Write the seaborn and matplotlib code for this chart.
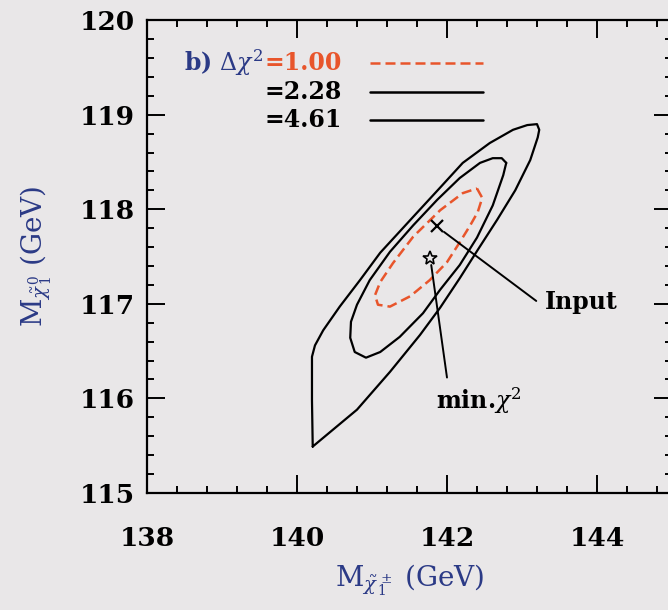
import numpy as np
import pandas as pd
import seaborn as sns
import matplotlib.pyplot as plt

# contour vertices (chargino mass, neutralino mass)
c461_x = [140.21, 140.20, 140.20, 140.24, 140.35, 140.57, 140.84, 141.11, 141.55, 141.91,
          142.21, 142.57, 142.88, 143.07, 143.20, 143.23, 143.21, 143.11, 142.91, 142.67,
          142.41, 142.17, 141.91, 141.64, 141.24, 140.80, 140.21]
c461_y = [115.49, 115.98, 116.44, 116.56, 116.72, 116.97, 117.25, 117.54, 117.92, 118.23,
          118.49, 118.70, 118.84, 118.89, 118.90, 118.84, 118.76, 118.52, 118.20, 117.89,
          117.57, 117.27, 116.96, 116.67, 116.28, 115.88, 115.49]

c228_x = [142.79, 142.75, 142.61, 142.40, 142.17, 141.91, 141.68, 141.37, 141.11, 140.92,
          140.77, 140.71, 140.72, 140.80, 140.97, 141.24, 141.55, 141.87, 142.17, 142.44,
          142.61, 142.73, 142.79]
c228_y = [118.49, 118.36, 118.04, 117.70, 117.41, 117.15, 116.90, 116.65, 116.49, 116.43,
          116.49, 116.64, 116.81, 116.99, 117.25, 117.55, 117.83, 118.10, 118.33, 118.49,
          118.54, 118.54, 118.49]

c100_x = [142.40, 142.47, 142.41, 142.31, 142.17, 142.00, 141.77, 141.51, 141.24, 141.08,
          141.04, 141.11, 141.28, 141.55, 141.91, 142.21, 142.40]
c100_y = [118.22, 118.12, 117.97, 117.83, 117.65, 117.44, 117.25, 117.08, 116.97, 116.99,
          117.09, 117.23, 117.43, 117.71, 117.99, 118.17, 118.22]

input_pt = (141.87, 117.82)
minchi_pt = (141.77, 117.48)

levels = ["1.00", "2.28", "4.61"]

blue = "#2b3a86"
orange = "#e8552b"
bg = "#e9e7e8"

sns.set_style("ticks")
plt.rcParams["font.family"] = ["DejaVu Serif"]
plt.rcParams["mathtext.fontset"] = "dejavuserif"
plt.rcParams["text.color"] = "black"
plt.rcParams["xtick.color"] = "black"
plt.rcParams["ytick.color"] = "black"

fig = plt.figure(figsize=(6.68, 6.10), dpi=100, facecolor=bg)
ax = fig.add_axes([0.220, 0.192, 0.786, 0.775])
ax.set_facecolor(bg)

df_out = pd.DataFrame({"x": c461_x, "y": c461_y})
df_mid = pd.DataFrame({"x": c228_x, "y": c228_y})
df_in = pd.DataFrame({"x": c100_x, "y": c100_y})

sns.lineplot(data=df_out, x="x", y="y", sort=False, estimator=None, color="black", lw=1.6, ax=ax)
sns.lineplot(data=df_mid, x="x", y="y", sort=False, estimator=None, color="black", lw=1.6, ax=ax)
sns.lineplot(data=df_in, x="x", y="y", sort=False, estimator=None, color=orange, lw=1.8,
             dashes=False, ax=ax, linestyle=(0, (4, 2)))

# markers and leader lines
ax.plot(*input_pt, marker="x", ms=9, mew=1.6, color="black")
ax.plot(*minchi_pt, marker="*", ms=10, mew=1.2, mfc="none", color="black")
ax.plot([141.96, 143.19], [117.76, 117.03], color="black", lw=1.4)
ax.plot([141.79, 142.00], [117.41, 116.22], color="black", lw=1.4)
ax.text(143.31, 117.02, "Input", fontsize=17, fontweight="bold", va="center", ha="left")
ax.text(141.86, 115.98, r"min.$\chi^2$", fontsize=17, fontweight="bold", va="center", ha="left")

# legend drawn by hand like the original
ax.text(139.55, 119.55, r"b) $\Delta\chi^2$", color=blue, fontsize=17, fontweight="bold",
        ha="right", va="center")
ly = [119.55, 119.24, 118.94]
for i, lv in enumerate(levels):
    col = orange if i == 0 else "black"
    ax.text(139.57, ly[i], "=" + lv, color=col, fontsize=17, fontweight="bold", ha="left", va="center")
    ax.plot([140.97, 142.48], [ly[i], ly[i]], color=col, lw=1.8,
            linestyle=(0, (4, 2)) if i == 0 else "-")

ax.set_xlim(138, 145)
ax.set_ylim(115, 120)
ax.set_xticks([138, 140, 142, 144])
ax.set_yticks([115, 116, 117, 118, 119, 120])
ax.set_xticks(np.arange(138, 145.01, 0.4), minor=True)
ax.set_yticks(np.arange(115, 120.01, 0.2), minor=True)
ax.tick_params(which="both", direction="in", top=True, right=True, color="black", width=1.4)
ax.tick_params(which="major", length=13, labelsize=19)
ax.tick_params(axis="x", which="major", pad=24)
ax.tick_params(axis="y", which="major", pad=9)
ax.tick_params(which="minor", length=5)
for lab in ax.get_xticklabels() + ax.get_yticklabels():
    lab.set_fontweight("bold")
for s in ax.spines.values():
    s.set_linewidth(1.6)
    s.set_color("black")

ax.set_xlabel(r"M$_{\tilde\chi^\pm_1}$ (GeV)", color=blue, fontsize=20, labelpad=8)
ax.set_ylabel(r"M$_{\tilde\chi^0_1}$ (GeV)", color=blue, fontsize=20, labelpad=18)

fig.savefig("out.png", dpi=100, facecolor=bg)
